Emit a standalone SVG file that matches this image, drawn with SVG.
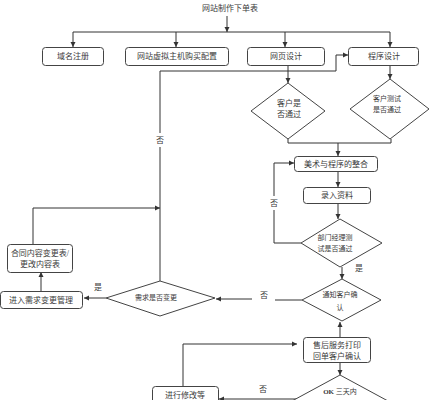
<svg xmlns="http://www.w3.org/2000/svg" width="430" height="400" viewBox="0 0 430 400">
<defs>
<marker id="ah" markerWidth="6" markerHeight="6" refX="5" refY="3" orient="auto" markerUnits="userSpaceOnUse">
<path d="M0,0.5 L5,3 L0,5.5 Z" fill="#333"/>
</marker>
<style>
text{font-family:"Liberation Serif","Noto Sans CJK SC",serif;font-size:8px;fill:#3a3a3a;text-anchor:middle}
.s7{font-size:7px}
.box{fill:#fff;stroke:#444;stroke-width:1}
.dia{fill:#fff;stroke:#444;stroke-width:1}
.ln{fill:none;stroke:#333;stroke-width:1}
.ar{fill:none;stroke:#333;stroke-width:1;marker-end:url(#ah)}
</style>
</defs>
<rect width="430" height="400" fill="#fff"/>
<g id="connectors">
<path class="ar" d="M227,16 V32"/>
<path class="ln" d="M73,32 H390"/>
<path class="ar" d="M73,32 V47"/>
<path class="ar" d="M176,32 V47"/>
<path class="ar" d="M285,32 V47"/>
<path class="ar" d="M390,32 V47"/>
<path class="ar" d="M288,65 V83"/>
<path class="ar" d="M390,65 V79"/>
<path class="ln" d="M160,281 V147"/>
<path class="ln" d="M160,133 V71 H336 V55"/>
<path class="ar" d="M336,55 H348"/>
<path class="ar" d="M33,244 V208 H160"/>
<path class="ar" d="M41,291 V272"/>
<path class="ar" d="M106,298 H84"/>
<path class="ln" d="M288,139 V143 H391 V139"/>
<path class="ar" d="M338,143 V156"/>
<path class="ar" d="M338,172 V187"/>
<path class="ar" d="M338,203 V219"/>
<path class="ln" d="M301,243 H274 V210"/>
<path class="ar" d="M274,196 V163 H294"/>
<path class="ar" d="M342,267 V279"/>
<path class="ln" d="M302,300 H275"/>
<path class="ar" d="M252,299 H216"/>
<path class="ar" d="M340,337 V322"/>
<path class="ar" d="M340,362 V375"/>
<path class="ar" d="M183,386 V344 H297"/>
<path class="ar" d="M303,399 H219"/>
</g>
<g id="n-top"><text x="230" y="11">网站制作下单表</text></g>
<g id="n-domain"><rect class="box" x="42.5" y="47.5" width="61" height="18" rx="3"/><text x="73" y="59">域名注册</text></g>
<g id="n-host"><rect class="box" x="125.5" y="47.5" width="103" height="18" rx="3"/><text x="177" y="59">网站虚拟主机购买配置</text></g>
<g id="n-web"><rect class="box" x="247.5" y="47.5" width="77" height="18" rx="3"/><text x="286" y="59">网页设计</text></g>
<g id="n-prog"><rect class="box" x="348.5" y="47.5" width="70" height="18" rx="3"/><text x="384" y="59">程序设计</text></g>
<g id="n-d1"><path class="dia" d="M288,83 L325,111 L288,139 L251,111 Z"/><text x="289" y="106">客户是</text><text x="289" y="117">否通过</text></g>
<g id="n-d2"><path class="dia" d="M390,79 L429,109 L390,139 L350,109 Z"/><text class="s7" x="387" y="101">客户测试</text><text class="s7" x="387" y="112">是否通过</text></g>
<g id="n-merge"><rect class="box" x="294.5" y="156.5" width="83" height="15" rx="3"/><text x="336" y="167">美术与程序的整合</text></g>
<g id="n-input"><rect class="box" x="303.5" y="187.5" width="67" height="16" rx="3"/><text x="337" y="198">录入资料</text></g>
<g id="n-d3"><path class="dia" d="M340,219 L382,243 L340,267 L301,243 Z"/><text class="s7" x="335" y="240">部门经理测</text><text class="s7" x="335" y="251">试是否通过</text></g>
<text x="359" y="271">是</text>
<text x="274" y="206">否</text>
<g id="n-d4"><path class="dia" d="M342,279 L381,300 L342,321 L302,300 Z"/><text class="s7" x="340" y="297">通知客户确</text><text class="s7" x="340" y="310">认</text></g>
<text x="264" y="298">否</text>
<g id="n-d5"><path class="dia" d="M160,281 L215,298 L160,316 L106,298 Z"/><text class="s7" x="156" y="300">需求是否变更</text></g>
<text x="98" y="290">是</text>
<text x="160" y="143">否</text>
<g id="n-contract"><rect class="box" x="7.5" y="244.5" width="65" height="28" rx="3"/><text x="40" y="256">合同内容变更表/</text><text x="40" y="267">更改内容表</text></g>
<g id="n-change"><rect class="box" x="0.5" y="291.5" width="82" height="17" rx="3"/><text x="41" y="303">进入需求变更管理</text></g>
<g id="n-after"><rect class="box" x="303.5" y="337.5" width="67" height="25" rx="3"/><text x="337" y="348">售后服务打印</text><text x="337" y="359">回单客户确认</text></g>
<g id="n-d6"><path class="dia" d="M340,375 L388,401 L340,427 L292,401 Z"/><text class="s7" x="340" y="394"><tspan font-weight="bold">OK</tspan> 三天内</text></g>
<text x="263" y="392">否</text>
<g id="n-modify"><rect class="box" x="152.5" y="386.5" width="66" height="26" rx="3"/><text x="185" y="398">进行修改等</text></g>
</svg>
